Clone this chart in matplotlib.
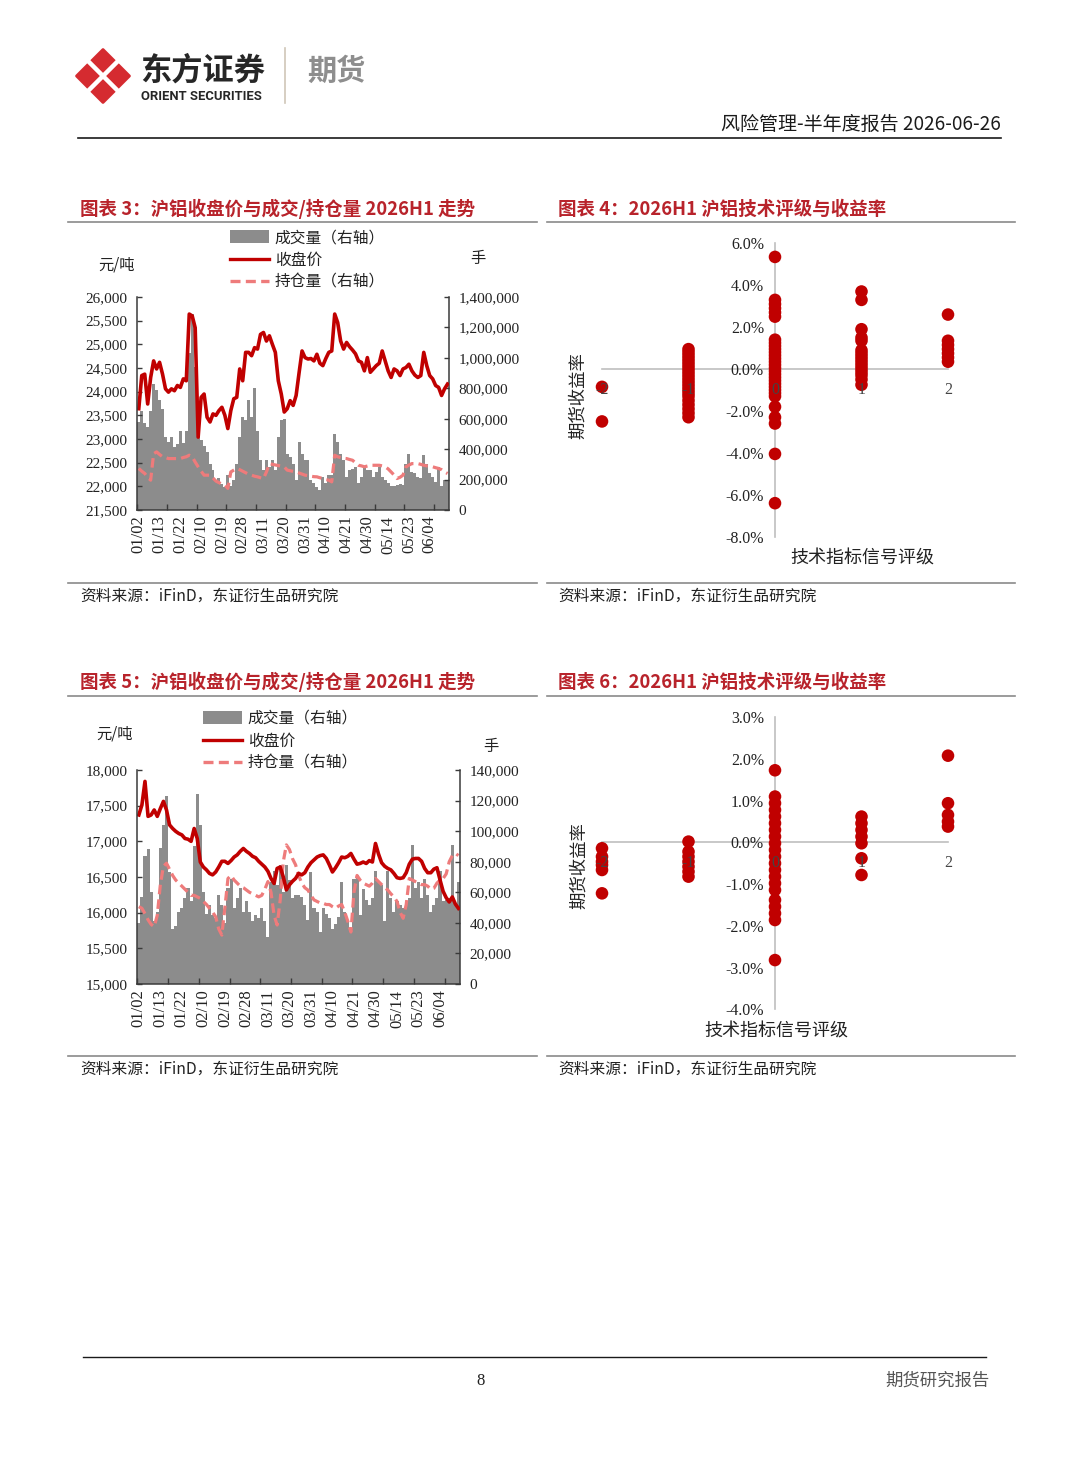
import numpy as np
import matplotlib
matplotlib.use('Agg')
import matplotlib.pyplot as plt
from matplotlib.patches import Patch, Polygon
from matplotlib.lines import Line2D
from matplotlib.ticker import FuncFormatter, FixedLocator

W, H = 1080, 1466

# ---- data: 沪铝 (chart 3) ----
date_labels = ['01/02', '01/13', '01/22', '02/10', '02/19', '02/28', '03/11', '03/20',
               '03/31', '04/10', '04/21', '04/30', '05/14', '05/23', '06/04']
label_every = 7

al_close = [23640, 24340, 24370, 23740, 24300, 24650, 24480, 24620, 24370, 24060,
            23990, 24060, 24020, 24130, 24090, 24270, 24230, 25640, 25600, 25350,
            23040, 23880, 23950, 23460, 23360, 23530, 23500, 23600, 23670, 23500,
            23220, 23600, 23850, 23880, 24480, 24230, 24830, 24830, 24760, 24930,
            24900, 25210, 25250, 25070, 25180, 25000, 24830, 24230, 23950, 23570,
            23640, 23810, 23710, 23920, 24400, 24860, 24720, 24690, 24700, 24650,
            24790, 24600, 24550, 24700, 24830, 24860, 25640, 25460, 25070, 24900,
            25040, 24950, 24880, 24800, 24650, 24620, 24440, 24720, 24410, 24480,
            24550, 24600, 24860, 24650, 24440, 24300, 24480, 24440, 24340, 24480,
            24510, 24580, 24440, 24350, 24300, 24340, 24830, 24550, 24340, 24270,
            24130, 24090, 23920, 24060, 24160]
# 成交量, 持仓量 in thousand lots
al_volume_k = [580, 650, 570, 545, 650, 830, 790, 720, 665, 480,
               450, 480, 415, 435, 520, 440, 520, 1030, 1290, 940,
               480, 460, 420, 380, 300, 260, 200, 210, 170, 150,
               230, 160, 200, 300, 480, 610, 590, 720, 610, 800,
               520, 330, 260, 330, 280, 330, 260, 480, 590, 600,
               370, 350, 300, 200, 450, 370, 330, 330, 200, 175,
               150, 130, 220, 175, 230, 230, 500, 450, 370, 330,
               220, 260, 270, 285, 175, 220, 280, 260, 260, 220,
               250, 280, 220, 200, 175, 160, 160, 165, 170, 165,
               300, 370, 250, 240, 220, 210, 360, 300, 240, 220,
               185, 280, 155, 200, 200]
al_oi_k = [273, 255, 240, 215, 196, 370, 382, 365, 350, 345,
           338, 338, 338, 338, 338, 345, 350, 360, 350, 315,
           284, 255, 229, 229, 229, 210, 190, 180, 170, 164,
           142, 250, 262, 273, 265, 255, 245, 235, 229, 222,
           218, 212, 207, 250, 305, 300, 296, 292, 288, 284,
           262, 258, 254, 250, 243, 236, 229, 226, 222, 219,
           218, 212, 207, 200, 196, 185, 360, 350, 345, 340,
           338, 332, 327, 310, 294, 290, 284, 289, 294, 294,
           294, 294, 290, 284, 270, 250, 230, 207, 215, 229,
           284, 295, 305, 305, 305, 300, 294, 290, 286, 284,
           278, 273, 265, 250, 240]

# ---- data: chart 5 ----
pb_close = [17370, 17510, 17840, 17350, 17370, 17440, 17350, 17460, 17560, 17440,
            17230, 17180, 17140, 17110, 17090, 17040, 17030, 17000, 17180, 17040,
            16710, 16640, 16600, 16550, 16530, 16570, 16640, 16720, 16720, 16690,
            16730, 16780, 16810, 16860, 16900, 16860, 16830, 16790, 16770, 16720,
            16680, 16640, 16580, 16480, 16410, 16620, 16640, 16500, 16320, 16390,
            16440, 16480, 16550, 16530, 16560, 16640, 16700, 16740, 16780, 16800,
            16810, 16760, 16670, 16570, 16630, 16700, 16780, 16770, 16790, 16830,
            16750, 16680, 16690, 16710, 16690, 16730, 16710, 16970, 16820, 16700,
            16650, 16620, 16600, 16550, 16490, 16480, 16490, 16560, 16680, 16750,
            16760, 16760, 16720, 16620, 16560, 16560, 16610, 16630, 16460, 16300,
            16210, 16150, 16220, 16120, 16060]
pb_volume_k = [40, 57, 84, 88, 60, 41, 47, 89, 104, 123,
               73, 36, 38, 47, 50, 56, 63, 54, 90, 124,
               104, 60, 46, 52, 45, 43, 58, 52, 40, 63,
               69, 50, 56, 63, 47, 54, 47, 41, 45, 43,
               50, 41, 31, 67, 74, 65, 78, 60, 78, 68,
               56, 58, 58, 57, 52, 42, 73, 50, 47, 34,
               50, 46, 43, 36, 39, 44, 67, 47, 41, 34,
               69, 71, 45, 62, 55, 52, 56, 74, 67, 65,
               41, 74, 56, 47, 54, 52, 50, 53, 56, 91,
               63, 67, 56, 69, 58, 47, 52, 56, 74, 54,
               55, 56, 91, 52, 67]
pb_oi_k = [50.6, 49.5, 46, 42, 39, 37.5, 45, 65, 77, 79,
           75, 71, 68, 66, 64, 62, 60, 58, 58, 57,
           56, 54, 52, 49.5, 47, 44, 36, 32, 50, 69,
           71, 68, 66, 64, 63, 61.5, 60, 59, 58, 57,
           58, 62, 67, 60, 45, 38.6, 55, 80, 91, 88,
           82, 78, 71, 66, 63, 61.5, 58, 55, 54, 53,
           52.8, 52, 52, 50.6, 49.5, 51, 52, 47, 41, 34,
           60, 71, 68, 66, 65, 64, 66, 69, 67, 65,
           63, 61.5, 59, 57, 54, 47, 43, 52, 69, 68,
           67, 66, 65, 65, 64, 62, 62.6, 66, 68, 69,
           72, 80, 84, 85.5, 84]

# ---- data: 技术评级 vs 收益率 (%) ----
ratings = [-2, -1, 0, 1, 2]
ret4 = {
    -2: [-0.85, -2.5],
    -1: [0.95, 0.8, 0.65, 0.5, 0.35, 0.2, 0.05, -0.1, -0.25, -0.4, -0.55, -0.7,
         -0.85, -1.0, -1.15, -1.3, -1.5, -1.7, -1.9, -2.1, -2.3],
    0: [5.35, 3.3, 3.1, 2.9, 2.7, 2.5, 1.4, 1.25, 1.1, 0.95, 0.8, 0.65, 0.5, 0.35,
        0.2, 0.05, -0.1, -0.25, -0.4, -0.55, -0.7, -0.85, -1.0, -1.15, -1.3,
        -1.8, -2.3, -2.6, -4.05, -6.4],
    1: [3.7, 3.3, 1.9, 1.5, 1.35, 0.9, 0.75, 0.6, 0.45, 0.3, 0.15, 0.0, -0.15,
        -0.3, -0.5, -0.75],
    2: [2.6, 1.35, 1.15, 0.95, 0.75, 0.55, 0.35],
}
ret6 = {
    -2: [-0.14, -0.34, -0.46, -0.54, -0.66, -1.22],
    -1: [0.02, -0.22, -0.34, -0.46, -0.58, -0.7, -0.82],
    0: [1.73, 1.1, 0.94, 0.78, 0.62, 0.46, 0.3, 0.14, -0.02, -0.18, -0.34, -0.5,
        -0.66, -0.82, -0.98, -1.14, -1.38, -1.54, -1.7, -1.86, -2.82],
    1: [0.62, 0.46, 0.3, 0.14, -0.02, -0.38, -0.78],
    2: [2.08, 0.94, 0.66, 0.5, 0.38],
}

RED = '#C00000'
TITLE_RED = '#B8232B'
PINK = '#EE7B7B'
GRAY = '#8C8C8C'
LINE_GRAY = '#8A8A8A'
CJK = ['Noto Sans CJK SC', 'DejaVu Sans']
SERIF = ['Liberation Serif', 'DejaVu Serif']

plt.rcParams['font.family'] = CJK
plt.rcParams['axes.unicode_minus'] = False


def rect(x0, y0, x1, y1):
    return [x0 / W, 1 - y1 / H, (x1 - x0) / W, (y1 - y0) / H]


fig = plt.figure(figsize=(W / 100, H / 100), dpi=100, facecolor='w')

# page layer in pixel coordinates
page = fig.add_axes([0, 0, 1, 1], zorder=0)
page.set_xlim(0, W)
page.set_ylim(H, 0)
page.axis('off')

# logo: four red lobes split by a white X
logo_red = '#D52B30'
for cx, cy in [(103, 62), (117, 76), (103, 90), (89, 76)]:
    r = 12.5
    page.add_patch(Polygon([(cx, cy - r), (cx + r, cy), (cx, cy + r), (cx - r, cy)],
                           closed=True, fc=logo_red, ec=logo_red, lw=2, joinstyle='round'))
page.plot([87, 119], [60, 92], color='w', lw=3.2, solid_capstyle='butt')
page.plot([87, 119], [92, 60], color='w', lw=3.2, solid_capstyle='butt')
page.text(140, 71, '东方证券', fontsize=22.5, fontweight='bold', color='#262626',
          va='center', ha='left', family=CJK)
page.text(141, 96, 'ORIENT SECURITIES', fontsize=9.4, fontweight='bold', color='#262626',
          va='center', ha='left', family=['Roboto', 'DejaVu Sans'])
page.plot([285, 285], [48, 103], color='#CFC6B8', lw=1.2)
page.text(307, 71, '期货', fontsize=21, fontweight='bold', color='#8E8E8E',
          va='center', ha='left', family=CJK)
page.text(1001, 124, '风险管理-半年度报告 2026-06-26', fontsize=13.7, color='#1A1A1A',
          va='center', ha='right', family=CJK)
page.plot([78, 1001], [138, 138], color='#1A1A1A', lw=1.2)

# section titles, rules and sources
titles = [
    (80, 209, '图表 3：沪铝收盘价与成交/持仓量 2026H1 走势'),
    (558, 209, '图表 4：2026H1 沪铝技术评级与收益率'),
    (80, 682, '图表 5：沪铝收盘价与成交/持仓量 2026H1 走势'),
    (558, 682, '图表 6：2026H1 沪铝技术评级与收益率'),
]
for x, y, t in titles:
    page.text(x, y, t, fontsize=13.3, fontweight='bold', color=TITLE_RED,
              va='center', ha='left', family=CJK)
for y_rule, y_src, y_title_rule in [(583, 596, 222), (1056, 1069, 696)]:
    for x0, x1, xt in [(68, 537, 80), (547, 1015, 558)]:
        page.plot([x0, x1], [y_title_rule, y_title_rule], color=LINE_GRAY, lw=1.2)
        page.plot([x0, x1], [y_rule, y_rule], color=LINE_GRAY, lw=1.2)
        page.text(xt, y_src, '资料来源：iFinD，东证衍生品研究院', fontsize=11.3,
                  color='#222222', va='center', ha='left', family=CJK)

# footer
page.plot([83, 986], [1357, 1357], color='#1A1A1A', lw=1.0)
page.text(481, 1381, '8', fontsize=12, color='#222222', va='center', ha='center',
          family=SERIF)
page.text(990, 1381, '期货研究报告', fontsize=12.5, color='#555555', va='center',
          ha='right', family=CJK)

thousands = FuncFormatter(lambda v, p: f'{v:,.0f}')


def price_volume_chart(box, close, vol_k, oi_k, pmin, pmax, pstep, vmax, vstep,
                       legend_xy, unit_left, unit_right):
    n = len(close)
    idx = np.arange(n)
    axv = fig.add_axes(rect(*box), zorder=2)
    axv.bar(idx, np.array(vol_k) * 1000, width=1.0, color=GRAY, linewidth=0)
    axv.plot(idx, np.array(oi_k) * 1000, color=PINK, lw=2.3, ls=(0, (3, 1.6)))
    axv.set_ylim(0, vmax)
    axv.set_yticks(np.arange(0, vmax + 1, vstep))
    axv.yaxis.set_major_formatter(thousands)
    axv.yaxis.tick_right()
    axv.set_xlim(-0.5, n - 0.5)

    axp = fig.add_axes(rect(*box), zorder=3)
    axp.set_facecolor('none')
    axp.plot(idx, close, color=RED, lw=2.6)
    axp.set_ylim(pmin, pmax)
    axp.set_yticks(np.arange(pmin, pmax + 1, pstep))
    axp.yaxis.set_major_formatter(thousands)
    axp.set_xlim(-0.5, n - 0.5)

    for a in (axv, axp):
        for s in a.spines.values():
            s.set_visible(False)
        a.set_xticks([])
    axp.spines['left'].set_visible(True)
    axp.spines['bottom'].set_visible(True)
    axv.spines['right'].set_visible(True)
    for a in (axp, axv):
        for s in ('left', 'right', 'bottom'):
            a.spines[s].set_color('#3A3A3A')
            a.spines[s].set_linewidth(1.1)
    for a in (axp, axv):
        a.tick_params(axis='y', direction='in', length=3.5, width=1, pad=7,
                      labelsize=11, colors='#3A3A3A', labelcolor='#222222')
    for lab in axp.get_yticklabels() + axv.get_yticklabels():
        lab.set_family(SERIF)

    axp.xaxis.set_major_locator(FixedLocator(np.arange(-0.5, n, 10)))
    axp.xaxis.set_minor_locator(FixedLocator(np.arange(0, n, label_every)[:len(date_labels)]))
    axp.set_xticklabels([], minor=False)
    axp.set_xticklabels(date_labels, minor=True, rotation=90, family=SERIF,
                        fontsize=12, color='#222222')
    axp.tick_params(axis='x', which='major', direction='in', length=4, width=1,
                    colors='#3A3A3A')
    axp.tick_params(axis='x', which='minor', length=0, pad=4)

    handles = [Patch(facecolor=GRAY, edgecolor='none'),
               Line2D([], [], color=RED, lw=2.4),
               Line2D([], [], color=PINK, lw=2.4, ls=(0, (3, 1.6)))]
    fig.legend(handles, ['成交量（右轴）', '收盘价', '持仓量（右轴）'],
               loc='upper left', bbox_to_anchor=(legend_xy[0] / W, 1 - legend_xy[1] / H),
               frameon=False, prop={'family': CJK, 'size': 11.3}, handlelength=2.5,
               handleheight=0.9, handletextpad=0.35, labelspacing=0.35,
               borderpad=0, borderaxespad=0, labelcolor='#222222')
    page.text(*unit_left, '元/吨', fontsize=11, ha='center', va='center', color='#222222')
    page.text(*unit_right, '手', fontsize=11, ha='center', va='center', color='#222222')


price_volume_chart((137.3, 297, 449, 510), al_close, al_volume_k, al_oi_k,
                   21500, 26000, 500, 1400000, 200000, (230, 229), (117, 265), (478, 258))
price_volume_chart((137.3, 770, 460, 984), pb_close, pb_volume_k, pb_oi_k,
                   15000, 18000, 500, 140000, 20000, (203, 710), (115, 734), (491, 747))


def rating_chart(box, rets, ymin, ymax, step, ylab_xy, xlab_xy):
    ax = fig.add_axes(rect(*box), zorder=2)
    ax.set_facecolor('none')
    xs = [r for r in ratings for _ in rets[r]]
    ys = [v for r in ratings for v in rets[r]]
    ax.scatter(xs, ys, s=82, color=RED, edgecolors='none', zorder=2, clip_on=False)
    ax.set_xlim(-2, 2)
    ax.set_ylim(ymin, ymax)
    ax.set_yticks(np.arange(ymin, ymax + 0.01, step))
    ax.yaxis.set_major_formatter(FuncFormatter(lambda v, p: f'{v:.1f}%'))
    ax.set_xticks(ratings)
    ax.set_xticklabels([str(r) for r in ratings])
    for s in ('top', 'right'):
        ax.spines[s].set_visible(False)
    ax.spines['left'].set_position(('data', 0))
    ax.spines['bottom'].set_position(('data', 0))
    for s in ('left', 'bottom'):
        ax.spines[s].set_color('#BFBFBF')
        ax.spines[s].set_linewidth(1.2)
        ax.spines[s].set_zorder(0.5)
    ax.xaxis.set_zorder(5)
    ax.tick_params(axis='y', length=0, pad=8, labelsize=11.5, labelcolor='#222222')
    ax.tick_params(axis='x', length=0, pad=9, labelsize=11.5, labelcolor='#444444')
    for lab in ax.get_yticklabels() + ax.get_xticklabels():
        lab.set_family(SERIF)
    page.text(*ylab_xy, '期货收益率', rotation=90, fontsize=12.5, ha='center',
              va='center', color='#222222')
    page.text(*xlab_xy, '技术指标信号评级', fontsize=13, ha='center', va='center',
              color='#222222')


rating_chart((602, 243.3, 948, 536.7), ret4, -8, 6, 2, (578, 396), (862, 559))
rating_chart((602, 717.3, 948, 1009.3), ret6, -4, 3, 1, (579, 866), (776, 1032))

fig.savefig('out.png', dpi=100, facecolor='w')
plt.close(fig)
